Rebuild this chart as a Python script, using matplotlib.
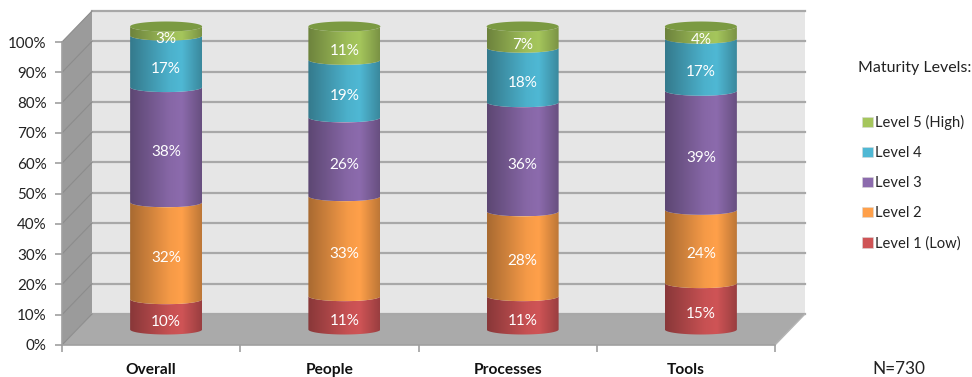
import numpy as np
import matplotlib
matplotlib.use("Agg")
import matplotlib.pyplot as plt
from matplotlib.colors import to_rgb
from matplotlib.patches import Patch, Polygon
from matplotlib.path import Path

plt.rcParams['font.family'] = ['Lato', 'DejaVu Sans']

categories = ["Overall", "People", "Processes", "Tools"]
levels = ["Level 1 (Low)", "Level 2", "Level 3", "Level 4", "Level 5 (High)"]
level1 = [10, 11, 11, 15.3]
level2 = [32, 33, 28, 24.2]
level3 = [38, 26, 36, 39.3]
level4 = [17, 19, 18, 17.2]
level5 = [3, 11, 7, 4]
series = [level1, level2, level3, level4, level5]
colors = ["#cf5456", "#ffa04a", "#8c6bad", "#4fb8d4", "#a5c65c"]
top_color = "#7b9a42"
yticks = list(range(0, 101, 10))

W, H = 972, 377
fig = plt.figure(figsize=(W / 100, H / 100), dpi=100)
# the axes is the front plane of the 3d box
ax = fig.add_axes([62 / W, 1 - 345 / H, 713 / W, 303 / H])
ax.patch.set_visible(False)

# depth of the box in data units
dx = 30 / 713 * 4
dy = 31 / 303 * 100
rx = 36 / 713 * 4
ry = 5 / 303 * 100

grid_c = "#a8a8a8"
# walls
ax.add_patch(Polygon([(dx, dy), (4 + dx, dy), (4 + dx, 100 + dy), (dx, 100 + dy)],
                     fc="#e6e6e6", ec="none", clip_on=False, zorder=1))
ax.add_patch(Polygon([(0, 0), (dx, dy), (dx, 100 + dy), (0, 100)],
                     fc="#9b9b9b", ec="none", clip_on=False, zorder=1))
ax.add_patch(Polygon([(0, 0), (4, 0), (4 + dx, dy), (dx, dy)],
                     fc="#aaaaaa", ec="none", clip_on=False, zorder=1))
for t in yticks:
    ax.plot([dx, 4 + dx], [t + dy, t + dy], color=grid_c, lw=1.6, clip_on=False, zorder=2)
    ax.plot([0, dx], [t, t + dy], color="#8c8c8c", lw=0.8, clip_on=False, zorder=2)
ax.plot([4, 4 + dx], [0, dy], color="#b4b4b4", lw=1, clip_on=False, zorder=2)


def segment_path(xc, y0, y1):
    th = np.linspace(np.pi, 2 * np.pi, 60)
    xs = xc + rx * np.cos(th)
    low = y0 + ry * np.sin(th)
    high = y1 + ry * np.sin(th)
    verts = list(zip(xs, low)) + list(zip(xs[::-1], high[::-1])) + [(xs[0], low[0])]
    return Path(verts)


# dark at the edges of the cylinder, bright a little right of the middle
u = np.linspace(0, 1, 200)
shade = np.interp(u, [0, 0.55, 0.72, 1], [0.66, 0.96, 1.0, 0.74])

z = 3
for i in range(len(categories)):
    xc = i + 0.5 + dx / 2
    base = 0
    for vals, col in zip(series, colors):
        v = vals[i]
        grad = np.clip(np.outer(shade, to_rgb(col)), 0, 1)[None, :, :]
        im = ax.imshow(grad, aspect="auto", zorder=z, interpolation="bilinear",
                       extent=[xc - rx, xc + rx, base + dy / 2 - ry, base + v + dy / 2 + ry])
        im.set_clip_path(segment_path(xc, base + dy / 2, base + v + dy / 2), ax.transData)
        im.set_clip_box(fig.bbox)
        z += 1
        # labels sit on the front of the cylinder
        ax.text(xc, base + v / 2 + dy / 2 - ry - 0.9, f"{v:.0f}%", color="white", ha="center",
                va="center", fontsize=11, zorder=50, clip_on=False)
        base += v
    th = np.linspace(0, 2 * np.pi, 100)
    ax.add_patch(Polygon(np.column_stack([xc + rx * np.cos(th), base + dy / 2 + ry * np.sin(th)]),
                         fc=top_color, ec="none", clip_on=False, zorder=z))
    z += 1

ax.set_xlim(0, 4)
ax.set_ylim(0, 100)
ax.set_yticks(yticks)
ax.set_yticklabels([f"{t}%" for t in yticks], fontsize=10.9, color="#222222")
ax.set_xticks(range(5))
ax.set_xticklabels([])
ax.set_xticks(np.arange(4) + 0.5, minor=True)
ax.set_xticklabels(categories, minor=True, fontsize=11.2, fontweight="bold", color="#111111")
ax.tick_params(axis="x", which="minor", length=0, pad=13)
ax.tick_params(axis="both", which="major", length=5, color="#a0a0a0", width=1.2)
ax.tick_params(axis="y", pad=6)
for name in ["top", "right"]:
    ax.spines[name].set_visible(False)
for name in ["left", "bottom"]:
    ax.spines[name].set_color("#a0a0a0")
    ax.spines[name].set_linewidth(1.2)

# legend and notes
handles = [Patch(fc=c, ec="#d8d8d8", lw=0.4, label=l) for c, l in zip(colors[::-1], levels[::-1])]
fig.legend(handles=handles, loc="upper left", bbox_to_anchor=(862 / W, 1 - 115 / H),
           frameon=False, fontsize=10.6, handlelength=0.75, handleheight=0.75, handletextpad=0.12,
           labelspacing=1.09, borderpad=0, borderaxespad=0, labelcolor="#222222")
fig.text(858 / W, 1 - 68 / H, "Maturity Levels:", fontsize=11.5, va="center", color="#222222")
fig.text(872 / W, 1 - 369 / H, "N=730", fontsize=12.4, va="center", color="#222222")

fig.savefig("out.png", dpi=100)
